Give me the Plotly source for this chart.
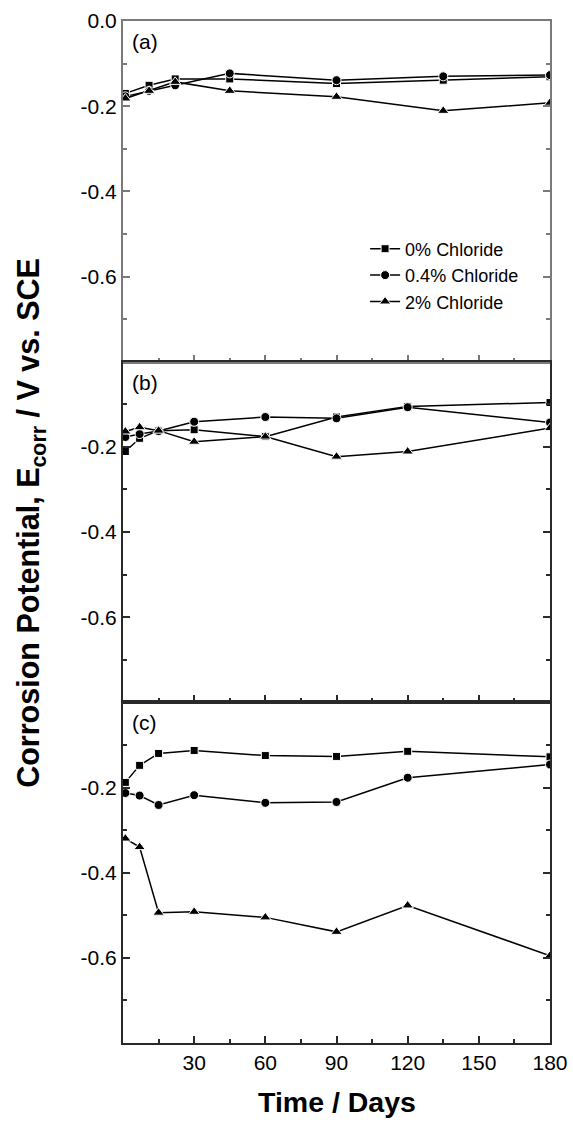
import plotly.graph_objects as go

# Exposure time (days)
days_a = [1, 11, 22, 45, 90, 135, 180]
days_bc = [1, 7, 15, 30, 60, 90, 120, 180]

# Corrosion potential (V vs. SCE), panel (a)
a_cl0 = [-0.170, -0.151, -0.136, -0.136, -0.147, -0.139, -0.131]
a_cl04 = [-0.177, -0.164, -0.151, -0.123, -0.139, -0.130, -0.127]
a_cl2 = [-0.182, -0.164, -0.143, -0.164, -0.178, -0.211, -0.192]

# panel (b)
b_cl0 = [-0.211, -0.180, -0.162, -0.160, -0.176, -0.130, -0.105, -0.096]
b_cl04 = [-0.177, -0.170, -0.163, -0.141, -0.130, -0.133, -0.107, -0.143]
b_cl2 = [-0.164, -0.154, -0.162, -0.188, -0.176, -0.223, -0.211, -0.156]

# panel (c)
c_cl0 = [-0.188, -0.148, -0.120, -0.113, -0.125, -0.127, -0.115, -0.128]
c_cl04 = [-0.213, -0.219, -0.241, -0.218, -0.236, -0.234, -0.177, -0.146]
c_cl2 = [-0.320, -0.340, -0.494, -0.492, -0.505, -0.539, -0.477, -0.595]

series_names = ["0% Chloride", "0.4% Chloride", "2% Chloride"]
panel_labels = ["(a)", "(b)", "(c)"]

x_tickvals = [30, 60, 90, 120, 150, 180]
x_ticktext = ["30", "60", "90", "120", "150", "180"]
y_tickvals_top = [0.0, -0.2, -0.4, -0.6]
y_ticktext_top = ["0.0", "-0.2", "-0.4", "-0.6"]
y_tickvals = [-0.2, -0.4, -0.6]
y_ticktext = ["-0.2", "-0.4", "-0.6"]

FONT = "Liberation Sans, Arial, sans-serif"
symbols = ["square", "circle", "triangle-up"]
sizes = [8, 9, 10]

panels = [
    (days_a, [a_cl0, a_cl04, a_cl2]),
    (days_bc, [b_cl0, b_cl04, b_cl2]),
    (days_bc, [c_cl0, c_cl04, c_cl2]),
]

fig = go.Figure()
for p, (xs, ys_list) in enumerate(panels):
    ax = "" if p == 0 else str(p + 1)
    for s, ys in enumerate(ys_list):
        fig.add_trace(go.Scatter(
            x=xs, y=ys, mode="lines+markers",
            name=series_names[s], showlegend=(p == 0),
            line=dict(color="black", width=1.5),
            marker=dict(symbol=symbols[s], size=sizes[s], color="black",
                        line=dict(color="white", width=1)),
            xaxis="x" + ax, yaxis="y" + ax,
        ))

domains = [[2 / 3, 1.0], [1 / 3, 2 / 3], [0.0, 1 / 3]]
axis_colors = ["#7a7a7a", "#2a2a2a", "#2a2a2a"]

layout = dict(
    width=573, height=1126,
    margin=dict(l=123, r=23, t=21, b=83, autoexpand=False),
    paper_bgcolor="white", plot_bgcolor="white",
    font=dict(family=FONT, size=21, color="black"),
    showlegend=True,
    legend=dict(x=0.567, y=0.795, xanchor="left", yanchor="top",
                bgcolor="rgba(0,0,0,0)", font=dict(size=18),
                tracegroupgap=0, itemsizing="trace"),
)

for p in range(3):
    suffix = "" if p == 0 else str(p + 1)
    col = axis_colors[p]
    layout["xaxis" + suffix] = dict(
        domain=[0, 1], anchor="y" + suffix, range=[0, 180],
        tickvals=x_tickvals, ticktext=x_ticktext,
        showticklabels=(p == 2),
        ticks="inside", ticklen=7, tickwidth=1.5, tickcolor=col,
        minor=dict(ticks="inside", dtick=15, tick0=0, ticklen=4,
                   tickwidth=1.5, tickcolor=col),
        showline=True, linecolor=col, linewidth=2, mirror=True,
        showgrid=False, zeroline=False, automargin=False,
        matches=None if p == 0 else "x",
    )
    layout["yaxis" + suffix] = dict(
        domain=domains[p], anchor="x" + suffix, range=[-0.8, 0.0],
        tickvals=y_tickvals_top if p == 0 else y_tickvals,
        ticktext=y_ticktext_top if p == 0 else y_ticktext,
        ticks="inside", ticklen=7, tickwidth=1.5, tickcolor=col,
        minor=dict(ticks="inside", tickvals=[-0.1, -0.3, -0.5, -0.7],
                   ticklen=4, tickwidth=1.5, tickcolor=col),
        showline=True, linecolor=col, linewidth=2, mirror="ticks",
        showgrid=False, zeroline=False, automargin=False,
    )

fig.update_layout(**layout)

annotations = []
label_y = [0.980, 0.980 - 1 / 3, 0.980 - 2 / 3]
for p in range(3):
    annotations.append(dict(
        text=panel_labels[p], xref="paper", yref="paper",
        x=0.017, y=label_y[p], xanchor="left", yanchor="middle",
        showarrow=False, font=dict(size=21, family=FONT),
    ))
annotations.append(dict(
    text="<b>Corrosion Potential, E<sub>corr</sub> / V vs. SCE</b>",
    xref="paper", yref="paper", x=-0.2155, y=0.509,
    xanchor="center", yanchor="middle", textangle=-90,
    showarrow=False, font=dict(size=30.5, family=FONT),
))
annotations.append(dict(
    text="<b>Time / Days</b>", xref="paper", yref="paper",
    x=0.5, y=-0.058, xanchor="center", yanchor="middle",
    showarrow=False, font=dict(size=28.5, family=FONT),
))
fig.update_layout(annotations=annotations)

fig.write_html("out.html")
